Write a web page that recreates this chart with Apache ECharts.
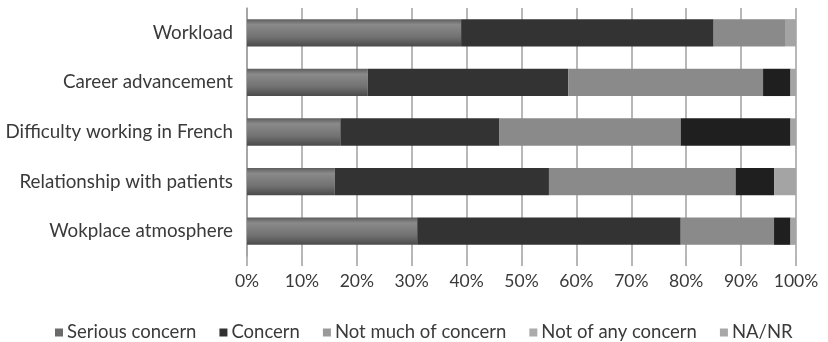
<!DOCTYPE html>
<html>
<head>
<meta charset="utf-8">
<script src="https://cdn.jsdelivr.net/npm/echarts@6/dist/echarts.min.js"></script>
<style>
  html, body { margin: 0; padding: 0; background: #fff; }
  #chart { width: 828px; height: 342px; }
</style>
</head>
<body>
<div id="chart"></div>
<script>
// Survey topics, top to bottom
const categories = [
  'Workload',
  'Career advancement',
  'Difficulty working in French',
  'Relationship with patients',
  'Wokplace atmosphere'
];

// Share of respondents (%) for each answer
const seriousConcern   = [39, 22, 17, 16, 31];
const concern          = [46, 36.5, 29, 39, 48];
const notMuchConcern   = [13, 35.5, 33, 34, 17];
const notAnyConcern    = [0, 5, 20, 7, 3];
const naNr             = [2, 1, 1, 4, 1];

const seriesNames = ['Serious concern', 'Concern', 'Not much of concern', 'Not of any concern', 'NA/NR'];
const seriesValues = [seriousConcern, concern, notMuchConcern, notAnyConcern, naNr];

const FONT = 'Lato';
const TEXT = '#3a3a3a';

const barColors = [
  { type: 'linear', x: 0, y: 0, x2: 0, y2: 1,
    colorStops: [
      { offset: 0, color: '#5e5e5e' },
      { offset: 0.2, color: '#8a8a8a' },
      { offset: 0.65, color: '#727272' },
      { offset: 1, color: '#4a4a4a' }
    ] },
  '#333333',
  '#8a8a8a',
  '#1f1f1f',
  '#a4a4a4'
];
const legendColors = ['#6a6a6a', '#303030', '#9a9a9a', '#ababab', '#a8a8a8'];

const chart = echarts.init(document.getElementById('chart'), null, { renderer: 'canvas' });

chart.setOption({
  animation: false,
  backgroundColor: '#ffffff',
  grid: { left: 247, right: 32, top: 8, bottom: 86, containLabel: false },
  legend: {
    left: 50,
    top: 318,
    icon: 'rect',
    itemWidth: 8,
    itemHeight: 8,
    itemGap: 23,
    textStyle: { fontFamily: FONT, fontSize: 18.5, color: TEXT, padding: [0, 0, 0, -1] },
    data: seriesNames.map((n, i) => ({ name: n, itemStyle: { color: legendColors[i] } }))
  },
  xAxis: {
    type: 'value',
    min: 0,
    max: 100,
    interval: 10,
    axisLine: { show: false },
    axisTick: { show: true, length: 10, lineStyle: { color: '#a0a0a0', width: 1.5 } },
    splitLine: { show: true, lineStyle: { color: '#a0a0a0', width: 1.5 } },
    axisLabel: {
      formatter: '{value}%',
      fontFamily: FONT,
      fontSize: 17.5,
      color: TEXT,
      margin: 16
    }
  },
  yAxis: {
    type: 'category',
    inverse: true,
    data: categories,
    axisLine: { show: true, lineStyle: { color: '#a0a0a0', width: 1.5 } },
    axisTick: { show: false },
    axisLabel: {
      fontFamily: FONT,
      fontSize: 18.8,
      color: TEXT,
      margin: 14
    }
  },
  series: seriesNames.map((n, i) => ({
    name: n,
    type: 'bar',
    stack: 'total',
    barWidth: '55%',
    data: seriesValues[i],
    itemStyle: { color: barColors[i] }
  }))
});
</script>
</body>
</html>
